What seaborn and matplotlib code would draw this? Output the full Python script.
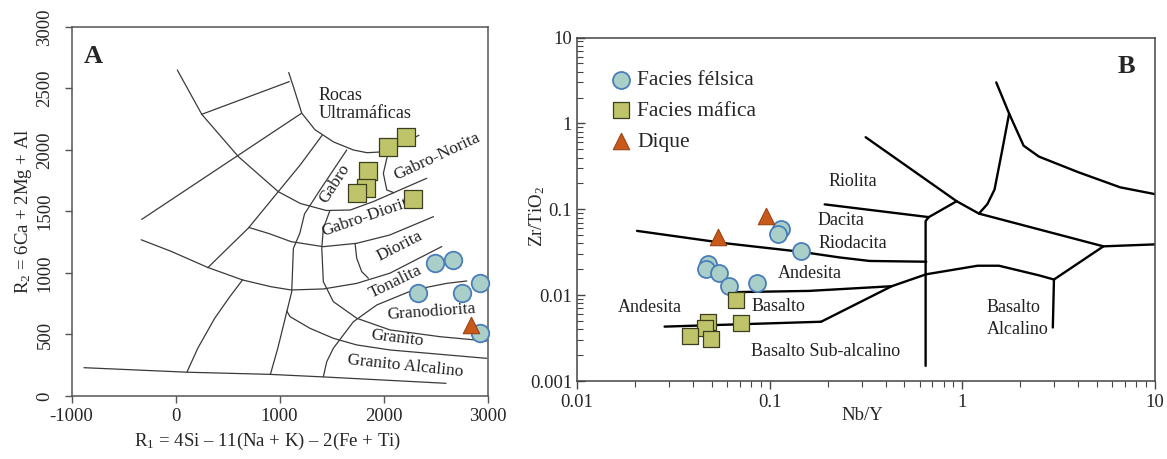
import matplotlib
matplotlib.use("Agg")
import matplotlib.pyplot as plt
import seaborn as sns
from matplotlib.ticker import NullFormatter, LogLocator

sns.set_theme(style="white")
plt.rcParams['font.family'] = ['Liberation Serif', 'DejaVu Serif']
plt.rcParams['mathtext.fontset'] = 'custom'
plt.rcParams['mathtext.rm'] = 'Liberation Serif'
plt.rcParams['mathtext.it'] = 'Liberation Serif:italic'
plt.rcParams['mathtext.bf'] = 'Liberation Serif:bold'
plt.rcParams['axes.unicode_minus'] = False

# ---------------- Panel A: R1-R2 (De la Roche) ----------------
bottom_line = [(-880, 230), (120, 193), (900, 176), (1420, 155), (2600, 103)]
left_curve = [(110, 195), (215, 390), (375, 630), (520, 805), (645, 945)]
tonalita_top = [(-330, 1270), (-40, 1175), (310, 1045), (645, 943), (920, 888), (1110, 862),
                (1420, 870), (1740, 915), (2060, 998), (2560, 1215)]
mid_line = [(310, 1043), (700, 1365), (1200, 1880), (1410, 2120)]
upper_line = [(-325, 1436), (1210, 2298)]
short_line = [(252, 2290), (1094, 2556)]
outer_arc = [(17, 2650), (252, 2290), (604, 1946), (988, 1661), (1200, 1565), (1450, 1508),
             (1680, 1512), (1900, 1580), (2415, 1770)]
ultra_arc = [(1088, 2630), (1133, 2515), (1213, 2300), (1340, 2165), (1520, 2065), (1710, 2000),
             (1840, 1978), (2000, 1985), (2190, 2054), (2340, 2120)]
diorita_top = [(705, 1370), (900, 1320), (1110, 1255), (1420, 1214), (1740, 1241), (2060, 1309),
               (2480, 1458)]
gabro_left = [(1646, 2000), (1517, 1837), (1389, 1675), (1240, 1480), (1195, 1323), (1133, 1200),
              (1117, 848), (1046, 604), (983, 388), (912, 176)]
norita_sep = [(2046, 1986), (1998, 1810), (2031, 1675), (2100, 1652)]
granodiorita_bottom = [(1484, 1507), (1421, 1363), (1406, 1201), (1421, 929), (1517, 767),
                       (1742, 632), (2062, 537), (2543, 482), (2992, 447)]
diorita_sep = [(1726, 1241), (1742, 1119), (1790, 1011), (1854, 957)]
granito_bottom = [(1070, 690), (1101, 645), (1293, 550), (1517, 469), (1742, 415), (2062, 374),
                  (2992, 306)]
alcalino_left = [(1421, 157), (1454, 279), (1517, 388), (1710, 604), (1935, 740), (2287, 862),
                 (2610, 916), (2800, 935)]

a_lines = [bottom_line, left_curve, tonalita_top, mid_line, upper_line, short_line, outer_arc,
           ultra_arc, diorita_top, gabro_left, norita_sep, granodiorita_bottom, diorita_sep,
           granito_bottom, alcalino_left]

felsic_a_r1 = [2495, 2665, 2335, 2752, 2928, 2928]
felsic_a_r2 = [1079, 1106, 835, 840, 916, 510]
mafic_a_r1 = [2213, 2046, 1854, 1829, 1748, 2287]
mafic_a_r2 = [2103, 2027, 1832, 1689, 1648, 1599]
dike_a_r1 = [2841]
dike_a_r2 = [577]

# label, x, y, rotation
a_labels = [
    ("Gabro-Norita", 2512, 1946, 25),
    ("Gabro", 1534, 1729, 57),
    ("Gabro-Diorita", 1854, 1463, 19),
    ("Diorita", 2159, 1214, 27),
    ("Tonalita", 2111, 929, 26),
    ("Granodiorita", 2463, 685, 4),
    ("Granito", 2127, 469, -7),
    ("Granito Alcalino", 2207, 244, -6),
]

# ---------------- Panel B: Zr/TiO2 vs Nb/Y ----------------
riodacita_line = [(0.0205, 0.056), (0.06, 0.040), (0.145, 0.032), (0.23, 0.0275), (0.33, 0.025),
                  (0.65, 0.0245)]
vertical_line = [(0.645, 0.0015), (0.645, 0.073), (0.67, 0.081)]
riolita_line = [(0.193, 0.114), (0.67, 0.081)]
junction_line = [(0.67, 0.081), (0.935, 0.124)]
diagonal_line = [(0.315, 0.69), (0.935, 0.124), (1.22, 0.089), (5.4, 0.037), (10, 0.039)]
trachy_line = [(5.4, 0.037), (2.99, 0.0152), (2.95, 0.0042)]
alkali_curve = [(0.185, 0.0049), (0.43, 0.0127), (0.65, 0.0175), (1.2, 0.022), (1.55, 0.022),
                (2.5, 0.017), (2.99, 0.0152)]
basalt_line = [(0.0285, 0.0043), (0.185, 0.0049)]
andesite_line = [(0.0605, 0.0108), (0.16, 0.0112), (0.43, 0.0127)]
upper_curve = [(1.5, 3.0), (1.75, 1.3), (2.08, 0.55), (2.5, 0.41), (4.0, 0.27), (6.6, 0.18),
               (10, 0.15)]
branch_line = [(1.75, 1.3), (1.6, 0.45), (1.47, 0.17), (1.35, 0.115), (1.22, 0.089)]

b_lines = [riodacita_line, vertical_line, riolita_line, junction_line, diagonal_line, trachy_line,
           alkali_curve, basalt_line, andesite_line, upper_curve, branch_line]

felsic_b_nby = [0.114, 0.110, 0.145, 0.0476, 0.047, 0.0547, 0.0615, 0.086]
felsic_b_zr = [0.059, 0.051, 0.033, 0.023, 0.020, 0.018, 0.0128, 0.0137]
mafic_b_nby = [0.0666, 0.071, 0.048, 0.046, 0.0388, 0.0498]
mafic_b_zr = [0.0087, 0.0048, 0.0049, 0.0041, 0.0033, 0.0031]
dike_b_nby = [0.096, 0.054]
dike_b_zr = [0.084, 0.048]

b_labels = [
    ("Riolita", 0.27, 0.21, "center"),
    ("Dacita", 0.234, 0.074, "center"),
    ("Riodacita", 0.27, 0.040, "center"),
    ("Andesita", 0.162, 0.018, "center"),
    ("Andesita", 0.0238, 0.0072, "center"),
    ("Basalto", 0.111, 0.0074, "center"),
    ("Basalto Sub-alcalino", 0.196, 0.0022, "center"),
    ("Basalto\nAlcalino", 1.34, 0.0054, "left"),
]

series_names = ["Facies félsica", "Facies máfica", "Dique"]

FELSIC = dict(marker="o", color="#a9cfc8", edgecolor="#4a7ebb", linewidth=1.3)
MAFIC = dict(marker="s", color="#bfc46a", edgecolor="#3d3d20", linewidth=0.9)
DIKE = dict(marker="^", color="#c9591a", edgecolor="#9a4312", linewidth=0.8)

fig = plt.figure(figsize=(11.67, 4.59), dpi=100)
axA = fig.add_axes([0.0613, 0.1373, 0.3565, 0.8039])
axB = fig.add_axes([0.4944, 0.1699, 0.4953, 0.7484])

# ----- Panel A drawing -----
for pts in a_lines:
    axA.plot([p[0] for p in pts], [p[1] for p in pts], color="#3a3a3a", lw=0.9, zorder=1)

sns.scatterplot(x=mafic_a_r1, y=mafic_a_r2, ax=axA, s=150, zorder=3, clip_on=False, **MAFIC)
sns.scatterplot(x=felsic_a_r1, y=felsic_a_r2, ax=axA, s=160, zorder=3, clip_on=False, **FELSIC)
sns.scatterplot(x=dike_a_r1, y=dike_a_r2, ax=axA, s=140, zorder=3, clip_on=False, **DIKE)

for txt, x, y, rot in a_labels:
    axA.text(x, y, txt, rotation=rot, rotation_mode="anchor", ha="center", va="center",
             fontsize=12.5, color="#222222", zorder=2)
axA.text(1373, 2370, "Rocas\nUltramáficas", ha="left", va="center", fontsize=13,
         color="#222222", linespacing=1.15)
axA.text(-880, 2764, "A", fontsize=19, fontweight="bold", ha="left", va="center")

axA.set_xlim(-1000, 3000)
axA.set_ylim(0, 3000)
axA.set_xticks([-1000, 0, 1000, 2000, 3000])
axA.set_yticks([0, 500, 1000, 1500, 2000, 2500, 3000])
for lab in axA.get_yticklabels():
    lab.set_rotation(90)
    lab.set_va("center")
axA.tick_params(direction="out", length=5, width=1, color="#555555", labelsize=13.5,
                bottom=True, left=True)
axA.tick_params(axis="y", pad=8)
for sp in axA.spines.values():
    sp.set_color("#555555")
    sp.set_linewidth(1.1)
axA.set_xlabel("R$_1$ = 4Si \u2013 11(Na + K) \u2013 2(Fe + Ti)", fontsize=13.5)
axA.set_ylabel("R$_2$ = 6Ca + 2Mg + Al", fontsize=13.5)
axA.xaxis.set_label_coords(0.47, -0.095)
axA.yaxis.set_label_coords(-0.091, 0.5)

# ----- Panel B drawing -----
axB.set_xscale("log")
axB.set_yscale("log")
for pts in b_lines:
    axB.plot([p[0] for p in pts], [p[1] for p in pts], color="black", lw=1.7, zorder=1)

sns.scatterplot(x=felsic_b_nby, y=felsic_b_zr, ax=axB, s=150, zorder=3, label=series_names[0], **FELSIC)
sns.scatterplot(x=mafic_b_nby, y=mafic_b_zr, ax=axB, s=140, zorder=3, label=series_names[1], **MAFIC)
sns.scatterplot(x=dike_b_nby, y=dike_b_zr, ax=axB, s=140, zorder=3, label=series_names[2], **DIKE)

for txt, x, y, ha in b_labels:
    axB.text(x, y, txt, ha=ha, va="center", fontsize=13, color="#222222", linespacing=1.4)
axB.text(7.1, 4.6, "B", fontsize=19, fontweight="bold", ha="center", va="center")

axB.set_xlim(0.01, 10)
axB.set_ylim(0.001, 10)
axB.set_xticks([0.01, 0.1, 1, 10])
axB.set_xticklabels(["0.01", "0.1", "1", "10"])
axB.set_yticks([0.001, 0.01, 0.1, 1, 10])
axB.set_yticklabels(["0.001", "0.01", "0.1", "1", "10"])
axB.xaxis.set_minor_locator(LogLocator(base=10, subs=range(2, 10)))
axB.yaxis.set_minor_locator(LogLocator(base=10, subs=range(2, 10)))
axB.xaxis.set_minor_formatter(NullFormatter())
axB.yaxis.set_minor_formatter(NullFormatter())
axB.tick_params(axis="x", which="major", direction="out", length=6, width=1, color="#444444", labelsize=13.5, bottom=True)
axB.tick_params(axis="x", which="minor", direction="out", length=4, width=0.8, color="#444444", bottom=True)
axB.tick_params(axis="y", which="major", direction="in", length=6, width=1, color="#444444", labelsize=13.5, left=True)
axB.tick_params(axis="y", which="minor", direction="in", length=4, width=0.8, color="#444444", left=True)
for sp in axB.spines.values():
    sp.set_color("#444444")
    sp.set_linewidth(1.1)
axB.set_xlabel("Nb/Y", fontsize=13.5)
axB.set_ylabel("Zr/TiO$_2$", fontsize=13.5)
axB.xaxis.set_label_coords(0.493, -0.076)
axB.yaxis.set_label_coords(-0.052, 0.48)

leg = axB.legend(loc="upper left", bbox_to_anchor=(0.063, 0.905), frameon=False, fontsize=15.5,
                 handlelength=0.75, handletextpad=0.35, borderpad=0, borderaxespad=0,
                 labelspacing=0.5)

fig.savefig("out.png", dpi=100)
